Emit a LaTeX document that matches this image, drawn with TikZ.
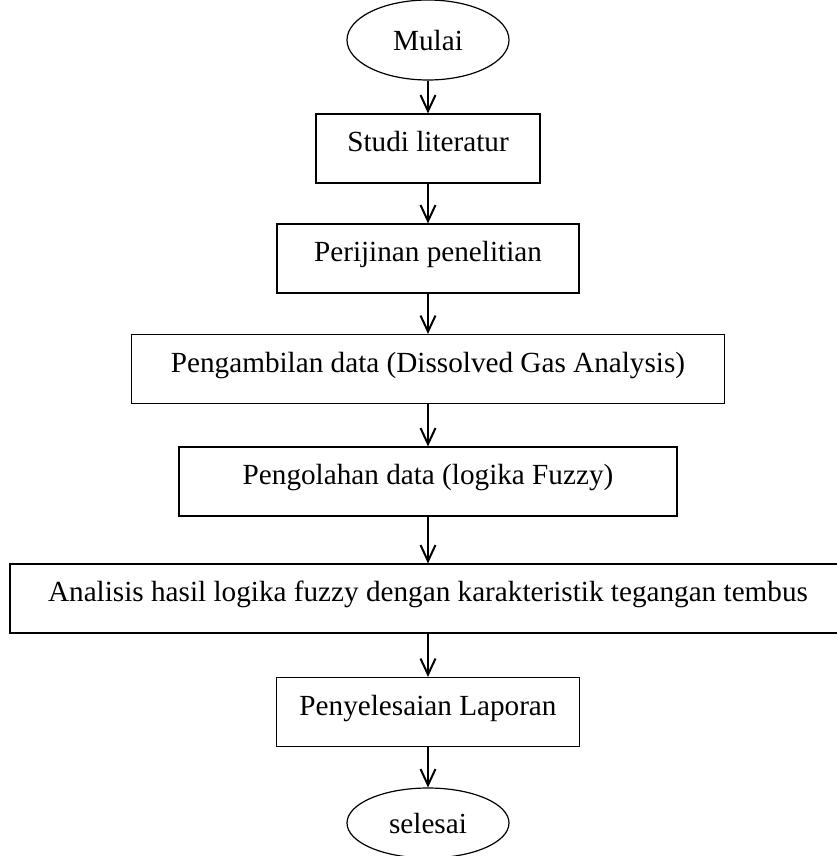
\documentclass[tikz,border=0pt]{standalone}
\usepackage{fontspec}
\setmainfont{Liberation Serif}
\usetikzlibrary{shapes.geometric,arrows.meta}

\begin{document}
\begin{tikzpicture}[x=0.5pt, y=-0.5pt,
    proses/.style={draw, line width=0.6pt, minimum height=34.5pt, inner sep=0pt,
      text height=10pt, text depth=7pt, font=\fontsize{14.6}{17}\selectfont},
    terminal/.style={proses, ellipse, minimum width=81pt, minimum height=40pt,
      text height=14.2pt, text depth=3.6pt},
    panah/.style={-{Straight Barb[length=8pt,width=7.5pt]}, line width=1pt}]
        % flowchart penelitian
        \useasboundingbox (0,0) rectangle (836,856);
        \node[terminal] (mulai) at (428,40) {Mulai};
        \node[proses, minimum width=112pt] (studi) at (428,148.5) {Studi literatur};
        \node[proses, minimum width=151pt] (izin) at (428,258.5) {Perijinan penelitian};
        \node[proses, minimum width=296.5pt] (ambil) at (428,369) {Pengambilan data (Dissolved Gas Analysis)};
        \node[proses, minimum width=249pt] (olah) at (428,481.5) {Pengolahan data (logika Fuzzy)};
        \node[proses, minimum width=418pt] (analisis) at (428,598.5) {Analisis hasil logika fuzzy dengan karakteristik tegangan tembus};
        \node[proses, minimum width=151.5pt] (laporan) at (428,712) {Penyelesaian Laporan};
        \node[terminal, minimum height=35pt] (selesai) at (428,823) {selesai};
        % panah
        \draw[panah] (mulai) -- (studi);
        \draw[panah] (studi) -- (izin);
        \draw[panah] (izin) -- (ambil);
        \draw[panah] (ambil) -- (olah);
        \draw[panah] (olah) -- (analisis);
        \draw[panah] (analisis) -- (laporan);
        \draw[panah] (laporan) -- (selesai);
      \end{tikzpicture}
\end{document}
